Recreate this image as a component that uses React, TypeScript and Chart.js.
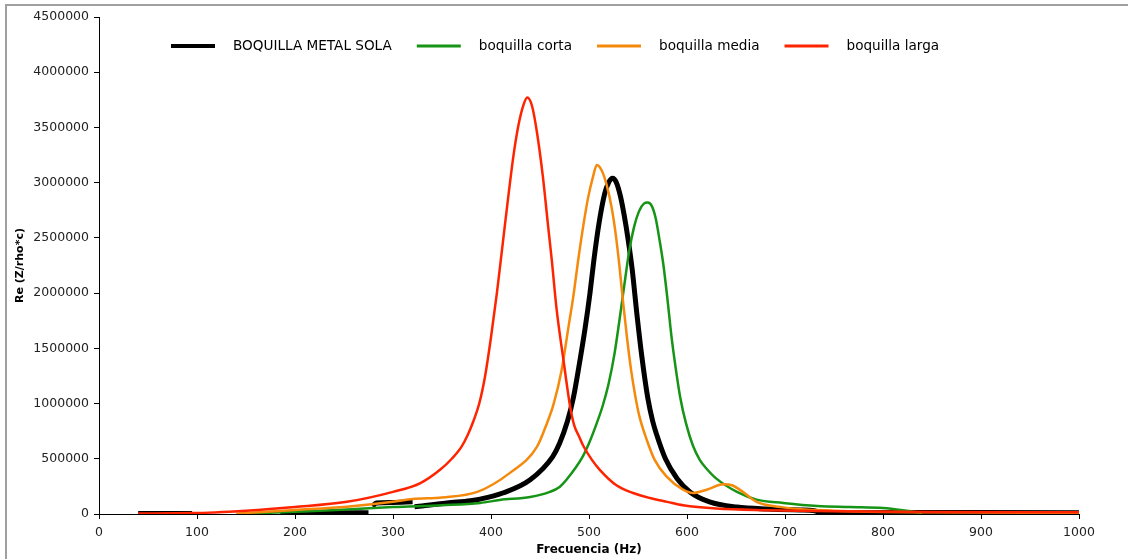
import React, { useEffect, useRef } from "react";
import { Chart, registerables } from "chart.js";

Chart.register(...registerables);

// ---- Data (frequency in Hz, Re(Z/rho*c)) ----
const metalHz = [40, 95, 140, 185, 230, 275, 277, 279, 283, 300, 320, 321, 322, 355, 379, 389, 412, 440, 463, 470, 478, 484, 490, 496, 501, 505, 510, 516, 520, 524, 528, 532, 536, 540, 544, 549, 554, 560, 565, 569, 578, 590, 603, 623, 651, 682, 715, 730, 738, 766, 770, 800, 900, 1000];
const metalRe = [5000, 5000, null, 8000, 10000, 12000, null, 70000, 100000, 105000, 110000, null, 65000, 100000, 120000, 135000, 190000, 310000, 520000, 640000, 840000, 1050000, 1350000, 1680000, 2000000, 2300000, 2620000, 2900000, 3000000, 3040000, 3000000, 2880000, 2700000, 2480000, 2220000, 1800000, 1420000, 1050000, 840000, 720000, 500000, 320000, 200000, 110000, 63000, 45000, 36000, 30000, 6000, 4000, 14000, 14000, 13000, 12000];

const cortaHz = [150, 200, 253, 300, 350, 389, 409, 440, 460, 470, 477, 493, 500, 507, 514, 520, 526, 531, 536, 541, 546, 551, 556, 560, 564, 568, 572, 576, 580, 584, 588, 593, 599, 606, 613, 620, 630, 651, 671, 698, 733, 766, 800, 824, 840];
const cortaRe = [3000, 20000, 40000, 63000, 80000, 100000, 127000, 154000, 200000, 245000, 310000, 510000, 640000, 800000, 980000, 1180000, 1450000, 1750000, 2070000, 2380000, 2600000, 2740000, 2810000, 2820000, 2790000, 2680000, 2480000, 2250000, 1950000, 1620000, 1350000, 1060000, 820000, 620000, 490000, 410000, 320000, 200000, 130000, 100000, 72000, 63000, 54000, 30000, 10000];

const mediaHz = [140, 151, 200, 253, 300, 320, 350, 386, 419, 447, 457, 464, 472, 479, 484, 489, 494, 499, 504, 508, 513, 518, 523, 527, 531, 535, 539, 543, 547, 551, 559, 567, 579, 596, 606, 620, 637, 646, 657, 671, 698, 750, 850, 1000];
const mediaRe = [3000, 10000, 36000, 66000, 110000, 136000, 150000, 200000, 370000, 610000, 820000, 1000000, 1300000, 1690000, 1970000, 2300000, 2600000, 2860000, 3050000, 3160000, 3110000, 2980000, 2780000, 2550000, 2250000, 1900000, 1580000, 1300000, 1080000, 900000, 670000, 490000, 340000, 220000, 190000, 220000, 270000, 260000, 200000, 110000, 60000, 30000, 15000, 10000];

const largaHz = [40, 95, 150, 200, 253, 300, 328, 348, 360, 370, 376, 382, 388, 394, 400, 406, 412, 418, 423, 428, 433, 437, 442, 447, 453, 458, 462, 467, 474, 481, 485, 490, 494, 503, 511, 528, 545, 562, 580, 596, 630, 680, 750, 850, 1000];
const largaRe = [5000, 8000, 30000, 63000, 110000, 200000, 280000, 400000, 500000, 610000, 710000, 840000, 1000000, 1250000, 1600000, 2000000, 2450000, 2900000, 3250000, 3520000, 3700000, 3770000, 3690000, 3450000, 3050000, 2630000, 2300000, 1850000, 1390000, 960000, 800000, 700000, 620000, 490000, 400000, 260000, 190000, 145000, 110000, 80000, 50000, 35000, 25000, 18000, 15000];

const seriesLabels = ["BOQUILLA METAL SOLA", "boquilla corta", "boquilla media", "boquilla larga"];
const seriesColors = ["#000000", "#169416", "#f5890c", "#ff2400"];
const seriesWidths = [5, 2.5, 2.5, 2.5];

const xTitle = "Frecuencia (Hz)";
const yTitle = "Re (Z/rho*c)";

const FONT = "'DejaVu Sans', 'Liberation Sans', sans-serif";

const toPoints = (hz: number[], re: (number | null)[]) => hz.map((x, i) => ({ x, y: re[i] }));

const frame = {
  id: "frame",
  beforeDraw(chart: any) {
    const ctx = chart.ctx;
    ctx.save();
    ctx.fillStyle = "#ffffff";
    ctx.fillRect(0, 0, chart.width, chart.height);
    ctx.strokeStyle = "#a0a0a0";
    ctx.lineWidth = 2;
    ctx.beginPath();
    ctx.moveTo(6, chart.height);
    ctx.lineTo(6, 5);
    ctx.lineTo(chart.width, 5);
    ctx.stroke();
    ctx.restore();
  },
};

const legendPlugin = {
  id: "customLegend",
  afterDraw(chart: any) {
    const ctx = chart.ctx;
    ctx.save();
    ctx.font = `13.6px ${FONT}`;
    ctx.textBaseline = "middle";
    let x = 171;
    const y = 46;
    chart.data.datasets.forEach((ds: any, i: number) => {
      ctx.strokeStyle = ds.borderColor;
      ctx.lineWidth = i === 0 ? 4 : 3;
      ctx.beginPath();
      ctx.moveTo(x, y);
      ctx.lineTo(x + 44, y);
      ctx.stroke();
      x += 44 + 18;
      ctx.fillStyle = "#000";
      ctx.fillText(ds.label, x, y);
      x += ctx.measureText(ds.label).width + 25;
    });
    ctx.restore();
  },
};

export default function App() {
  const ref = useRef<HTMLCanvasElement | null>(null);

  useEffect(() => {
    if (!ref.current) return;
    Chart.defaults.font.family = FONT;
    const series = [
      toPoints(metalHz, metalRe),
      toPoints(cortaHz, cortaRe),
      toPoints(mediaHz, mediaRe),
      toPoints(largaHz, largaRe),
    ];
    const orders = [3, 2, 1, 0];
    const chart = new Chart(ref.current, {
      type: "line",
      data: {
        datasets: series.map((data, i) => ({
          label: seriesLabels[i],
          data,
          borderColor: seriesColors[i],
          backgroundColor: seriesColors[i],
          borderWidth: seriesWidths[i],
          pointRadius: 0,
          fill: false,
          cubicInterpolationMode: "monotone" as const,
          spanGaps: false,
          order: orders[i],
        })),
      },
      options: {
        animation: false,
        responsive: false,
        layout: { padding: { top: 17, right: 49, bottom: 0, left: 0 } },
        plugins: { legend: { display: false }, tooltip: { enabled: false } },
        scales: {
          x: {
            type: "linear",
            min: 0,
            max: 1000,
            ticks: { stepSize: 100, color: "#222", font: { size: 12.5 }, padding: 6, maxRotation: 0, callback: (v: any) => String(v) },
            grid: { display: true, drawOnChartArea: false, drawTicks: true, tickLength: 5, color: "#000" },
            border: { display: true, color: "#000", width: 1 },
            title: { display: true, text: xTitle, color: "#000", font: { size: 12, weight: "bold" }, padding: { top: 0, bottom: 2 } },
            afterFit: (s: any) => { s.height = 45; },
          },
          y: {
            type: "linear",
            min: 0,
            max: 4500000,
            ticks: { stepSize: 500000, color: "#222", font: { size: 12.5 }, padding: 5, callback: (v: any) => String(v) },
            grid: { display: true, drawOnChartArea: false, drawTicks: true, tickLength: 5, color: "#000" },
            border: { display: true, color: "#000", width: 1 },
            title: { display: true, text: yTitle, color: "#000", font: { size: 11, weight: "bold" }, padding: { top: 14, bottom: 0 } },
            afterFit: (s: any) => { s.width = 99; },
          },
        },
      },
      plugins: [frame, legendPlugin],
    });
    return () => chart.destroy();
  }, []);

  return (
    <div style={{ position: "absolute", left: 0, top: 0, width: 1128, height: 559 }}>
      <canvas ref={ref} width={1128} height={559} style={{ display: "block" }} />
    </div>
  );
}
